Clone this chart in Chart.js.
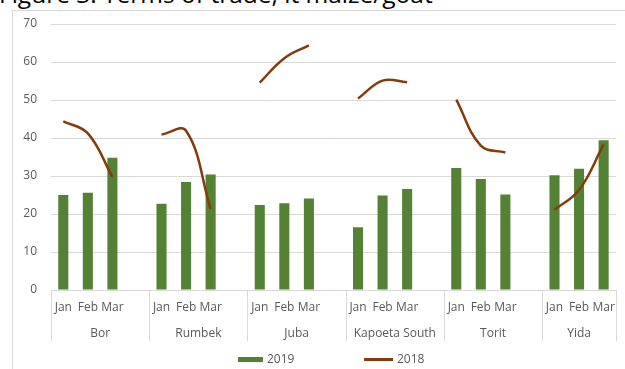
<!DOCTYPE html>
<html>
<head>
<meta charset="utf-8">
<script src="https://cdn.jsdelivr.net/npm/chart.js@4"></script>
<style>
  html, body { margin: 0; padding: 0; background: #fff; overflow: hidden; }
  #wrap { position: relative; width: 625px; height: 369px; }
  #title {
    position: absolute; left: -1px; top: -21px; white-space: nowrap;
    font-family: "Open Sans", sans-serif; font-size: 24.5px; line-height: 30px; color: #000;
  }
  #frame {
    position: absolute; left: 12px; top: 10px; width: 700px; height: 400px;
    border: 1px solid #d9d9d9; pointer-events: none;
  }
  #chart { position: absolute; left: 0; top: 0; }
  .legend {
    position: absolute; top: 351px; font-family: "Open Sans", sans-serif;
    font-size: 12px; color: #595959; line-height: 16px;
  }
  .legend span.sw { display: inline-block; vertical-align: middle; margin-right: 4px; }
</style>
</head>
<body>
<div id="wrap">
  <div id="title">Figure 3: Terms of trade, lt maize/goat</div>
  <div id="frame"></div>
  <canvas id="chart" width="625" height="369"></canvas>
  <div class="legend" style="left:238px"><span class="sw" style="width:25px;height:5px;background:#548235"></span>2019</div>
  <div class="legend" style="left:364px"><span class="sw" style="width:29px;height:3px;background:#843c0c"></span>2018</div>
</div>
<script>
  // regions on the outer axis level, months on the inner one
  const regions = ['Bor', 'Rumbek', 'Juba', 'Kapoeta South', 'Torit', 'Yida'];
  const months = ['Jan', 'Feb', 'Mar'];

  // 2019 bars, one row per region (Jan, Feb, Mar)
  const values2019 = [
    [25.0, 25.6, 34.8],
    [22.7, 28.4, 30.4],
    [22.4, 22.8, 24.1],
    [16.5, 24.9, 26.6],
    [32.1, 29.2, 25.1],
    [30.2, 31.9, 39.4]
  ];
  // 2018 line
  const values2018 = [
    [44.4, 41.2, 29.8],
    [40.9, 41.9, 21.3],
    [54.6, 61.0, 64.4],
    [50.4, 55.1, 54.7],
    [50.1, 38.0, 36.2],
    [21.1, 26.3, 38.3]
  ];

  const yTicks = { min: 0, max: 70, step: 10 };

  // flatten with an empty slot between regions (as in the source sheet)
  const labels = [];
  const bars = [];
  const line = [];
  const groupStarts = [];
  regions.forEach(function (r, gi) {
    groupStarts.push(labels.length);
    months.forEach(function (m, mi) {
      labels.push(m);
      bars.push(values2019[gi][mi]);
      line.push(values2018[gi][mi]);
    });
    if (gi < regions.length - 1) {
      labels.push('');
      bars.push(null);
      line.push(null);
    }
  });
  groupStarts.push(labels.length);

  const axisGray = '#d9d9d9';
  const textGray = '#595959';
  const font = { family: '"Open Sans", sans-serif', size: 12 };

  // outer axis level: separators + region names
  const groupAxis = {
    id: 'groupAxis',
    afterDraw: function (chart) {
      const x = chart.scales.x;
      const ctx = chart.ctx;
      const w = (x.right - x.left) / labels.length;
      const top = x.top;
      ctx.save();
      ctx.strokeStyle = axisGray;
      ctx.lineWidth = 1;
      groupStarts.forEach(function (k) {
        const px = Math.round(x.left + k * w) + 0.5;
        ctx.beginPath();
        ctx.moveTo(px, top);
        ctx.lineTo(px, top + 51);
        ctx.stroke();
      });
      ctx.fillStyle = textGray;
      ctx.font = '12px "Open Sans", sans-serif';
      ctx.textAlign = 'center';
      ctx.textBaseline = 'middle';
      regions.forEach(function (r, gi) {
        const a = x.left + groupStarts[gi] * w;
        const b = x.left + groupStarts[gi + 1] * w;
        ctx.fillText(r, (a + b) / 2, top + 44);
      });
      ctx.restore();
    }
  };

  new Chart(document.getElementById('chart').getContext('2d'), {
    type: 'bar',
    data: {
      labels: labels,
      datasets: [
        {
          type: 'line',
          label: '2018',
          data: line,
          borderColor: '#843c0c',
          borderWidth: 2.5,
          tension: 0.4,
          pointRadius: 0,
          spanGaps: false,
          order: 0
        },
        {
          label: '2019',
          data: bars,
          backgroundColor: '#548235',
          categoryPercentage: 1,
          barPercentage: 0.41,
          order: 1
        }
      ]
    },
    options: {
      responsive: false,
      animation: false,
      layout: { padding: { left: 12, top: 24, right: 9, bottom: 0 } },
      plugins: {
        legend: { display: false },
        tooltip: { enabled: false }
      },
      scales: {
        x: {
          grid: { display: false, drawTicks: false },
          border: { display: true, color: axisGray },
          ticks: { color: textGray, font: font, autoSkip: false, maxRotation: 0, padding: 10 },
          afterFit: function (s) { s.height = 79; }
        },
        y: {
          min: yTicks.min,
          max: yTicks.max,
          grid: { color: axisGray, drawTicks: false },
          border: { display: false },
          ticks: { stepSize: yTicks.step, color: textGray, font: font, padding: 14 },
          afterFit: function (s) { s.width = 39; }
        }
      }
    },
    plugins: [groupAxis]
  });
</script>
</body>
</html>
